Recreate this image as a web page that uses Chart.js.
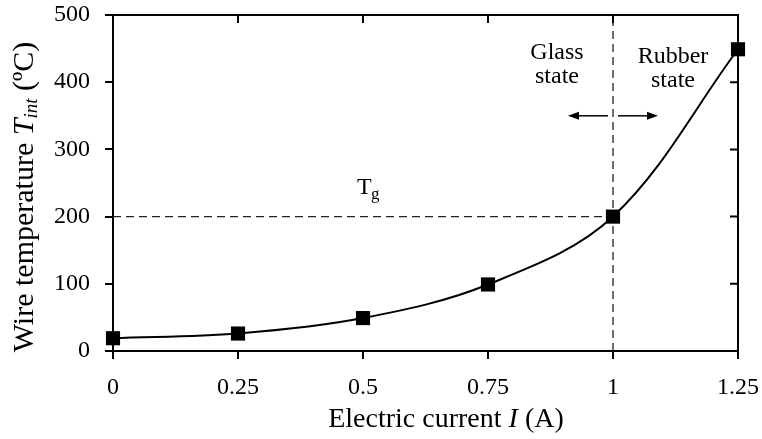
<!DOCTYPE html>
<html>
<head>
<meta charset="utf-8">
<script src="https://cdn.jsdelivr.net/npm/chart.js@4"></script>
<style>
  html, body { margin: 0; padding: 0; background: #fff; }
  #wrap { width: 762px; height: 439px; position: relative; }
</style>
</head>
<body>
<div id="wrap"><canvas id="chart" width="762" height="439"></canvas></div>
<script>
// measured points
const currents = [0, 0.25, 0.5, 0.75, 1, 1.25];
const temps = [19, 26, 49, 99, 200, 449];

// glass transition
const tgTemp = 200;
const tgCurrent = 1;

const xTicks = [0, 0.25, 0.5, 0.75, 1, 1.25];
const xTickLabels = ['0', '0.25', '0.5', '0.75', '1', '1.25'];
const yTicks = [0, 100, 200, 300, 400, 500];

const FONT = '"Liberation Serif", "Times New Roman", serif';

// frame, arrows and text drawn on top, placed in data units
const framePlugin = {
    id: 'frame',
    afterDraw(chart) {
        const ctx = chart.ctx;
        const xs = chart.scales.x;
        const ys = chart.scales.y;
        const a = chart.chartArea;
        ctx.save();
        ctx.strokeStyle = '#000';
        ctx.fillStyle = '#000';
        ctx.lineWidth = 2;

        // top + right border with inward ticks
        ctx.beginPath();
        ctx.moveTo(a.left, a.top);
        ctx.lineTo(a.right, a.top);
        ctx.lineTo(a.right, a.bottom);
        xTicks.slice(1, -1).forEach(v => {
            const px = xs.getPixelForValue(v);
            ctx.moveTo(px, a.top);
            ctx.lineTo(px, a.top + 8);
        });
        yTicks.slice(1, -1).forEach(v => {
            const py = ys.getPixelForValue(v);
            ctx.moveTo(a.right, py);
            ctx.lineTo(a.right - 8, py);
        });
        ctx.stroke();

        // arrows either side of Tg line
        const ay = ys.getPixelForValue(350);
        const arrow = (x0, x1) => {
            const p0 = xs.getPixelForValue(x0);
            const p1 = xs.getPixelForValue(x1);
            const dir = Math.sign(p1 - p0);
            ctx.lineWidth = 1.5;
            ctx.beginPath();
            ctx.moveTo(p0, ay);
            ctx.lineTo(p1 - dir * 8, ay);
            ctx.stroke();
            ctx.beginPath();
            ctx.moveTo(p1, ay);
            ctx.lineTo(p1 - dir * 11, ay - 4);
            ctx.lineTo(p1 - dir * 11, ay + 4);
            ctx.closePath();
            ctx.fill();
        };
        arrow(0.99, 0.91);
        arrow(1.01, 1.09);

        // annotations
        ctx.textAlign = 'center';
        ctx.textBaseline = 'middle';
        ctx.font = '24px ' + FONT;
        const gx = xs.getPixelForValue(0.888);
        ctx.fillText('Glass', gx, 53);
        ctx.fillText('state', gx, 77);
        const rx = xs.getPixelForValue(1.12);
        ctx.fillText('Rubber', rx, 57);
        ctx.fillText('state', rx, 81);

        // Tg label
        const tx = xs.getPixelForValue(0.5);
        const ty = ys.getPixelForValue(243);
        ctx.textAlign = 'left';
        ctx.fillText('T', tx - 6, ty);
        ctx.font = '17px ' + FONT;
        ctx.fillText('g', tx + 8, ty + 7);

        // x title
        const xParts = [
            ['Electric current ', '28px ' + FONT],
            ['I', 'italic 28px ' + FONT],
            [' (A)', '28px ' + FONT]
        ];
        let total = 0;
        xParts.forEach(p => { ctx.font = p[1]; total += ctx.measureText(p[0]).width; });
        let cx = 446 - total / 2;
        ctx.textAlign = 'left';
        xParts.forEach(p => {
            ctx.font = p[1];
            ctx.fillText(p[0], cx, 420);
            cx += ctx.measureText(p[0]).width;
        });

        // y title (rotated)
        ctx.translate(25, 197);
        ctx.rotate(-Math.PI / 2);
        const yParts = [
            ['Wire temperature ', '30px ' + FONT, 0],
            ['T', 'italic 30px ' + FONT, 0],
            ['int', 'italic 19px ' + FONT, 7],
            [' (\u00baC)', '30px ' + FONT, 0]
        ];
        total = 0;
        yParts.forEach(p => { ctx.font = p[1]; total += ctx.measureText(p[0]).width; });
        cx = -total / 2;
        yParts.forEach(p => {
            ctx.font = p[1];
            ctx.fillText(p[0], cx, p[2]);
            cx += ctx.measureText(p[0]).width;
        });
        ctx.restore();
    }
};

new Chart(document.getElementById('chart'), {
    type: 'scatter',
    data: {
        datasets: [
            {
                data: currents.map((c, i) => ({ x: c, y: temps[i] })),
                showLine: true,
                borderColor: '#000',
                borderWidth: 2,
                backgroundColor: '#000',
                pointStyle: 'rect',
                pointRadius: 10,
                pointBorderWidth: 0,
                tension: 0.35,
                clip: false,
                order: 0
            },
            {
                data: [{ x: 0, y: tgTemp }, { x: tgCurrent, y: tgTemp }],
                showLine: true,
                borderColor: '#222',
                borderWidth: 1.3,
                borderDash: [8, 5],
                pointRadius: 0,
                order: 1
            },
            {
                data: [{ x: tgCurrent, y: 0 }, { x: tgCurrent, y: 500 }],
                showLine: true,
                borderColor: '#222',
                borderWidth: 1.3,
                borderDash: [8, 5],
                pointRadius: 0,
                order: 1
            }
        ]
    },
    options: {
        responsive: false,
        animation: false,
        events: [],
        layout: { padding: { left: 0, right: 24, top: 15, bottom: 0 } },
        plugins: { legend: { display: false }, tooltip: { enabled: false } },
        scales: {
            x: {
                type: 'linear',
                min: 0,
                max: 1.25,
                afterFit(scale) {
                    scale.height = 88;
                    scale.paddingLeft = 0;
                    scale.paddingRight = 0;
                },
                afterBuildTicks(scale) { scale.ticks = xTicks.map(v => ({ value: v })); },
                ticks: {
                    color: '#000',
                    font: { family: FONT, size: 24 },
                    padding: 14,
                    maxRotation: 0,
                    callback: (v) => xTickLabels[xTicks.indexOf(v)]
                },
                grid: { drawOnChartArea: false, drawTicks: true, tickLength: 8, color: '#000', lineWidth: 2 },
                border: { display: true, color: '#000', width: 2 }
            },
            y: {
                type: 'linear',
                min: 0,
                max: 500,
                afterFit(scale) {
                    scale.width = 113;
                    scale.paddingTop = 0;
                    scale.paddingBottom = 0;
                },
                afterBuildTicks(scale) { scale.ticks = yTicks.map(v => ({ value: v })); },
                ticks: {
                    color: '#000',
                    font: { family: FONT, size: 24 },
                    padding: 15
                },
                grid: { drawOnChartArea: false, drawTicks: true, tickLength: 8, color: '#000', lineWidth: 2 },
                border: { display: true, color: '#000', width: 2 }
            }
        }
    },
    plugins: [framePlugin]
});
</script>
</body>
</html>
